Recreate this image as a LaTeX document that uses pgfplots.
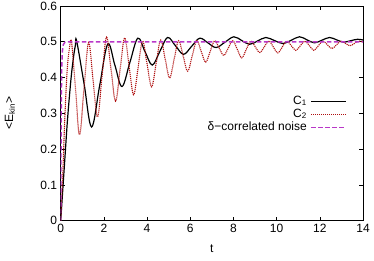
\documentclass[border=0pt]{standalone}
\usepackage{pgfplots}
\pgfplotsset{compat=1.18}
\usepackage{fontspec}
\setmainfont{Liberation Sans}
\definecolor{cone}{rgb}{0,0,0}
\definecolor{ctwo}{RGB}{175,15,15}
\definecolor{cdelta}{RGB}{185,55,200}
\begin{document}
\begin{tikzpicture}[font=\fontsize{12}{14.4}\selectfont]
\begin{axis}[
  scale only axis,
  width=302.3pt, height=214.7pt,
  xmin=0, xmax=14, ymin=0, ymax=0.6,
  xtick={0,2,4,6,8,10,12,14},
  ytick={0,0.1,0.2,0.3,0.4,0.5,0.6},
  yticklabels={0,0.1,0.2,0.3,0.4,0.5,0.6},
  /pgf/number format/assume math mode=true,
  tick align=inside,
  major tick length=4pt,
  axis line style={line width=0.8pt},
  every tick/.style={black, line width=0.6pt},
  xlabel={t},
  ylabel={<E\textsubscript{kin}>},
  xlabel style={at={(axis description cs:0.5,-0.132)}, anchor=center},
  ylabel style={at={(axis description cs:-0.168,0.5)}, anchor=center, rotate=0},
  legend plot pos=right,
  legend cell align=right,
  legend style={at={(axis description cs:0.957,0.595)}, anchor=north east, draw=none, fill=none,
    nodes={inner sep=0.5pt, text height=8.5pt, text depth=3.5pt}, row sep=0pt,
    /tikz/every odd column/.append style={column sep=3pt}},
  legend image code/.code={\draw[#1] (0pt,0pt) -- (35pt,0pt);},
]
\coordinate (O) at (rel axis cs:0,0);
\addlegendimage{draw=black, line width=1.2pt}
\addlegendentry{C\textsubscript{1}}
\addlegendimage{draw=ctwo, line width=1.1pt, dash pattern=on 1.1pt off 0.9pt}
\addlegendentry{C\textsubscript{2}}
\addlegendimage{draw=cdelta, line width=1.5pt, dash pattern=on 4.5pt off 2.5pt}
\addlegendentry{δ−correlated noise}
\addplot[forget plot, draw=black, line width=1.2pt, smooth, tension=0.6] coordinates {
(0,0)(0.1,0.09)(0.2,0.18)(0.3,0.27)(0.4,0.345)(0.5,0.41)(0.6,0.46)(0.68,0.49)(0.74,0.502)
(1.085,0.382)(1.43,0.262)(1.805,0.378)(2.18,0.494)(2.51,0.4345)(2.84,0.375)(3.205,0.4425)
(3.57,0.510)(3.905,0.4725)(4.24,0.435)(4.595,0.4735)(4.95,0.512)(5.32,0.4885)(5.69,0.465)
(6.065,0.4875)(6.44,0.510)(6.82,0.497)(7.2,0.484)(7.61,0.499)(8.02,0.514)(8.385,0.5035)
(8.75,0.493)(9.125,0.5025)(9.5,0.512)(9.9,0.5035)(10.3,0.495)(10.68,0.5045)(11.06,0.514)
(11.405,0.5055)(11.75,0.497)(12.1,0.5045)(12.45,0.512)(12.775,0.5055)(13.1,0.499)
(13.425,0.503)(13.75,0.507)(14,0.505)
};
\addplot[forget plot, draw=ctwo, line width=1.1pt, dash pattern=on 1.1pt off 0.9pt, smooth, tension=0.6] coordinates {
(0,0)(0.1,0.14)(0.2,0.3)(0.3,0.42)(0.4,0.48)(0.5,0.5)
(0.685,0.37)(0.87,0.24)(1.08,0.369)(1.29,0.498)(1.4975,0.394)(1.705,0.29)(1.9125,0.4015)
(2.12,0.513)(2.33,0.4235)(2.54,0.334)(2.75,0.4225)(2.96,0.511)(3.1675,0.4315)(3.375,0.352)
(3.5825,0.427)(3.79,0.502)(4.0,0.438)(4.21,0.374)(4.42,0.4395)(4.63,0.505)(4.8375,0.452)
(5.045,0.399)(5.2525,0.451)(5.46,0.503)(5.67,0.4605)(5.88,0.418)(6.09,0.4605)(6.3,0.503)
(6.5075,0.473)(6.715,0.443)(6.9225,0.473)(7.13,0.503)(7.34,0.4825)(7.55,0.462)(7.76,0.4825)
(7.97,0.503)(8.1775,0.479)(8.385,0.455)(8.5925,0.4785)(8.8,0.502)(9.01,0.486)(9.22,0.47)
(9.43,0.486)(9.64,0.502)(9.8475,0.4855)(10.055,0.469)(10.2625,0.4855)(10.47,0.502)
(10.68,0.489)(10.89,0.476)(11.1,0.489)(11.31,0.502)(11.5175,0.489)(11.725,0.476)
(11.9325,0.489)(12.14,0.502)(12.35,0.4915)(12.56,0.481)(12.77,0.4915)(12.98,0.502)
(13.1875,0.4955)(13.395,0.489)(13.6025,0.4955)(13.81,0.502)(14,0.499)
};
\addplot[forget plot, draw=cdelta, line width=1.5pt, dash pattern=on 4.5pt off 2.5pt] coordinates {
(0,0)(0.01,0.15)(0.02,0.27)(0.03,0.35)(0.05,0.43)(0.08,0.475)(0.12,0.492)(0.2,0.499)(0.3,0.5)(14,0.5)
};
\end{axis}
\pgfresetboundingbox
\path (O) ++(-60.7pt,-39.3pt) rectangle ++(374pt,260pt);
\end{tikzpicture}
\end{document}
